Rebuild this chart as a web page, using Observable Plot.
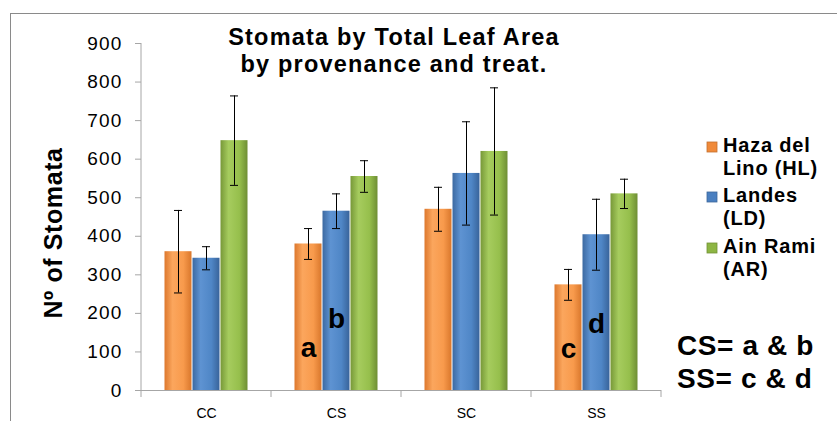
<!DOCTYPE html>
<html><head><meta charset="utf-8">
<script src="https://cdn.jsdelivr.net/npm/d3@7"></script>
<script src="https://cdn.jsdelivr.net/npm/@observablehq/plot@0.6"></script>
<style>
body{margin:0;background:#fff;font-family:"Liberation Sans",Arial,sans-serif;}
#wrap{position:relative;width:837px;height:421px;overflow:hidden;background:#fff;}
#border{position:absolute;left:10px;top:13px;width:900px;height:500px;border:1.5px solid #8a8a8a;box-sizing:border-box;}
#wrap svg{position:absolute;left:0;top:0;}
#over{pointer-events:none;}
g[aria-label="y-axis tick label"] text{letter-spacing:1.2px;}
</style></head><body><div id="wrap"><div id="border"></div></div>
<script>
const categories = ["CC", "CS", "SC", "SS"];
const seriesKeys = ["HL", "LD", "AR"];
const seriesNames = [["Haza del", "Lino (HL)"], ["Landes", "(LD)"], ["Ain Rami", "(AR)"]];
const meanHL = [360, 380, 470, 274];
const meanLD = [343, 465, 563, 404];
const meanAR = [648, 555, 620, 510];
const errHL = [107, 40, 57, 40];
const errLD = [30, 45, 134, 92];
const errAR = [116, 41, 165, 38];
const letters = ["a", "b", "c", "d"];
const letterCats = ["CS", "CS", "SS", "SS"];
const letterSeries = ["HL", "LD", "HL", "LD"];
const letterY = [88, 163, 83, 150];
const yTicks = [0, 100, 200, 300, 400, 500, 600, 700, 800, 900];
const titleLines = ["Stomata by Total Leaf Area", "by provenance and treat."];
const yLabel = "Nº of Stomata";
const noteLines = ["CS= a & b", "SS= c & d"];

const means = [meanHL, meanLD, meanAR];
const errs = [errHL, errLD, errAR];
const data = [];
categories.forEach((c, i) => {
  seriesKeys.forEach((s, j) => {
    data.push({cat: c, series: s, value: means[j][i], err: errs[j][i]});
  });
});
const notes = letters.map((t, i) => ({text: t, cat: letterCats[i], series: letterSeries[i], y: letterY[i]}));

const grads = {
  HL: ["#DD782D", "#FBA65D", "#F89A4C", "#D9772C"],
  LD: ["#3C69A1", "#5E93D2", "#4F86C6", "#38639A"],
  AR: ["#779838", "#A6CC5E", "#96BF4C", "#6E8E34"]
};
const swatch = {HL: "#F08A3A", LD: "#4A7FC0", AR: "#8DB543"};

const chart = Plot.plot({
  width: 837, height: 421,
  marginLeft: 139, marginRight: 175, marginTop: 43, marginBottom: 31,
  style: {fontFamily: '"Liberation Sans", Arial, sans-serif', background: "transparent", color: "#000", overflow: "visible"},
  fx: {domain: categories, padding: 0, label: null},
  x: {domain: seriesKeys, paddingInner: 0, paddingOuter: 0.76, axis: null},
  y: {domain: [0, 900], label: null},
  color: {domain: seriesKeys, range: seriesKeys.map(k => `url(#g${k})`)},
  marks: [
    Plot.barY(data, {fx: "cat", x: "series", y: "value", fill: "series", insetLeft: 0.5, insetRight: 0.5}),
    Plot.ruleY([0], {stroke: "#a6a6a6", strokeWidth: 1}),
    Plot.ruleX(data, {fx: "cat", x: "series", y1: d => d.value - d.err, y2: d => d.value + d.err, stroke: "#000", strokeWidth: 1}),
    Plot.tickY(data, {fx: "cat", x: "series", y: d => d.value - d.err, stroke: "#000", insetLeft: 10, insetRight: 10}),
    Plot.tickY(data, {fx: "cat", x: "series", y: d => d.value + d.err, stroke: "#000", insetLeft: 10, insetRight: 10}),
    Plot.text(notes, {fx: "cat", x: "series", y: "y", text: "text", fontSize: 28, fontWeight: "bold", lineAnchor: "bottom", fill: "#000"}),
    Plot.axisY({ticks: yTicks, tickSize: 6, tickPadding: 13, fontSize: 19, stroke: "#a6a6a6", label: null}),
    Plot.axisFx({anchor: "bottom", tickSize: 0, tickPadding: 18, fontSize: 14, label: null})
  ]
});

const wrap = document.getElementById("wrap");
wrap.appendChild(chart);
const svg = d3.select(chart);
const defs = svg.insert("defs", ":first-child");
for (const k of seriesKeys) {
  const g = defs.append("linearGradient").attr("id", "g" + k).attr("x1", 0).attr("x2", 1).attr("y1", 0).attr("y2", 0);
  [0, 0.3, 0.7, 1].forEach((o, i) => g.append("stop").attr("offset", o).attr("stop-color", grads[k][i]));
}
const fx = chart.scale("fx"), y = chart.scale("y");
const y0 = y.apply(0), yTop = y.apply(900);
const xLeft = fx.apply(categories[0]);
const bounds = categories.map(c => fx.apply(c)).concat([fx.apply(categories[categories.length - 1]) + fx.bandwidth]);
const deco = svg.append("g").attr("stroke", "#a6a6a6").attr("stroke-width", 1);
deco.append("line").attr("x1", xLeft).attr("x2", xLeft).attr("y1", yTop).attr("y2", y0);
bounds.forEach(b => deco.append("line").attr("x1", b).attr("x2", b).attr("y1", y0).attr("y2", y0 + 7));

// overlay: title, y label, legend, notes
const ov = d3.select(wrap).append("svg").attr("id", "over").attr("width", 837).attr("height", 421)
  .style("font-family", '"Liberation Sans", Arial, sans-serif').style("font-weight", "bold");
titleLines.forEach((t, i) => ov.append("text").attr("x", 394).attr("y", 45 + i * 27).attr("text-anchor", "middle")
  .attr("font-size", 23.5).style("letter-spacing", "1.2px").text(t));
ov.append("text").attr("transform", "translate(62,233) rotate(-90)").attr("text-anchor", "middle")
  .attr("font-size", 25).style("letter-spacing", "0.6px").text(yLabel);
const legendY = [152, 202, 253];
seriesKeys.forEach((k, i) => {
  ov.append("rect").attr("x", 707).attr("y", legendY[i] - 10).attr("width", 10).attr("height", 10)
    .attr("fill", swatch[k]).attr("stroke", d3.color(swatch[k]).darker(0.6)).attr("stroke-width", 0.8);
  seriesNames[i].forEach((t, j) => ov.append("text").attr("x", 723).attr("y", legendY[i] + j * 23)
    .attr("font-size", 20).style("letter-spacing", "0.8px").text(t));
});
noteLines.forEach((t, i) => ov.append("text").attr("x", 677).attr("y", 355 + i * 33)
  .attr("font-size", 28).style("letter-spacing", "0.6px").text(t));
</script></body></html>
